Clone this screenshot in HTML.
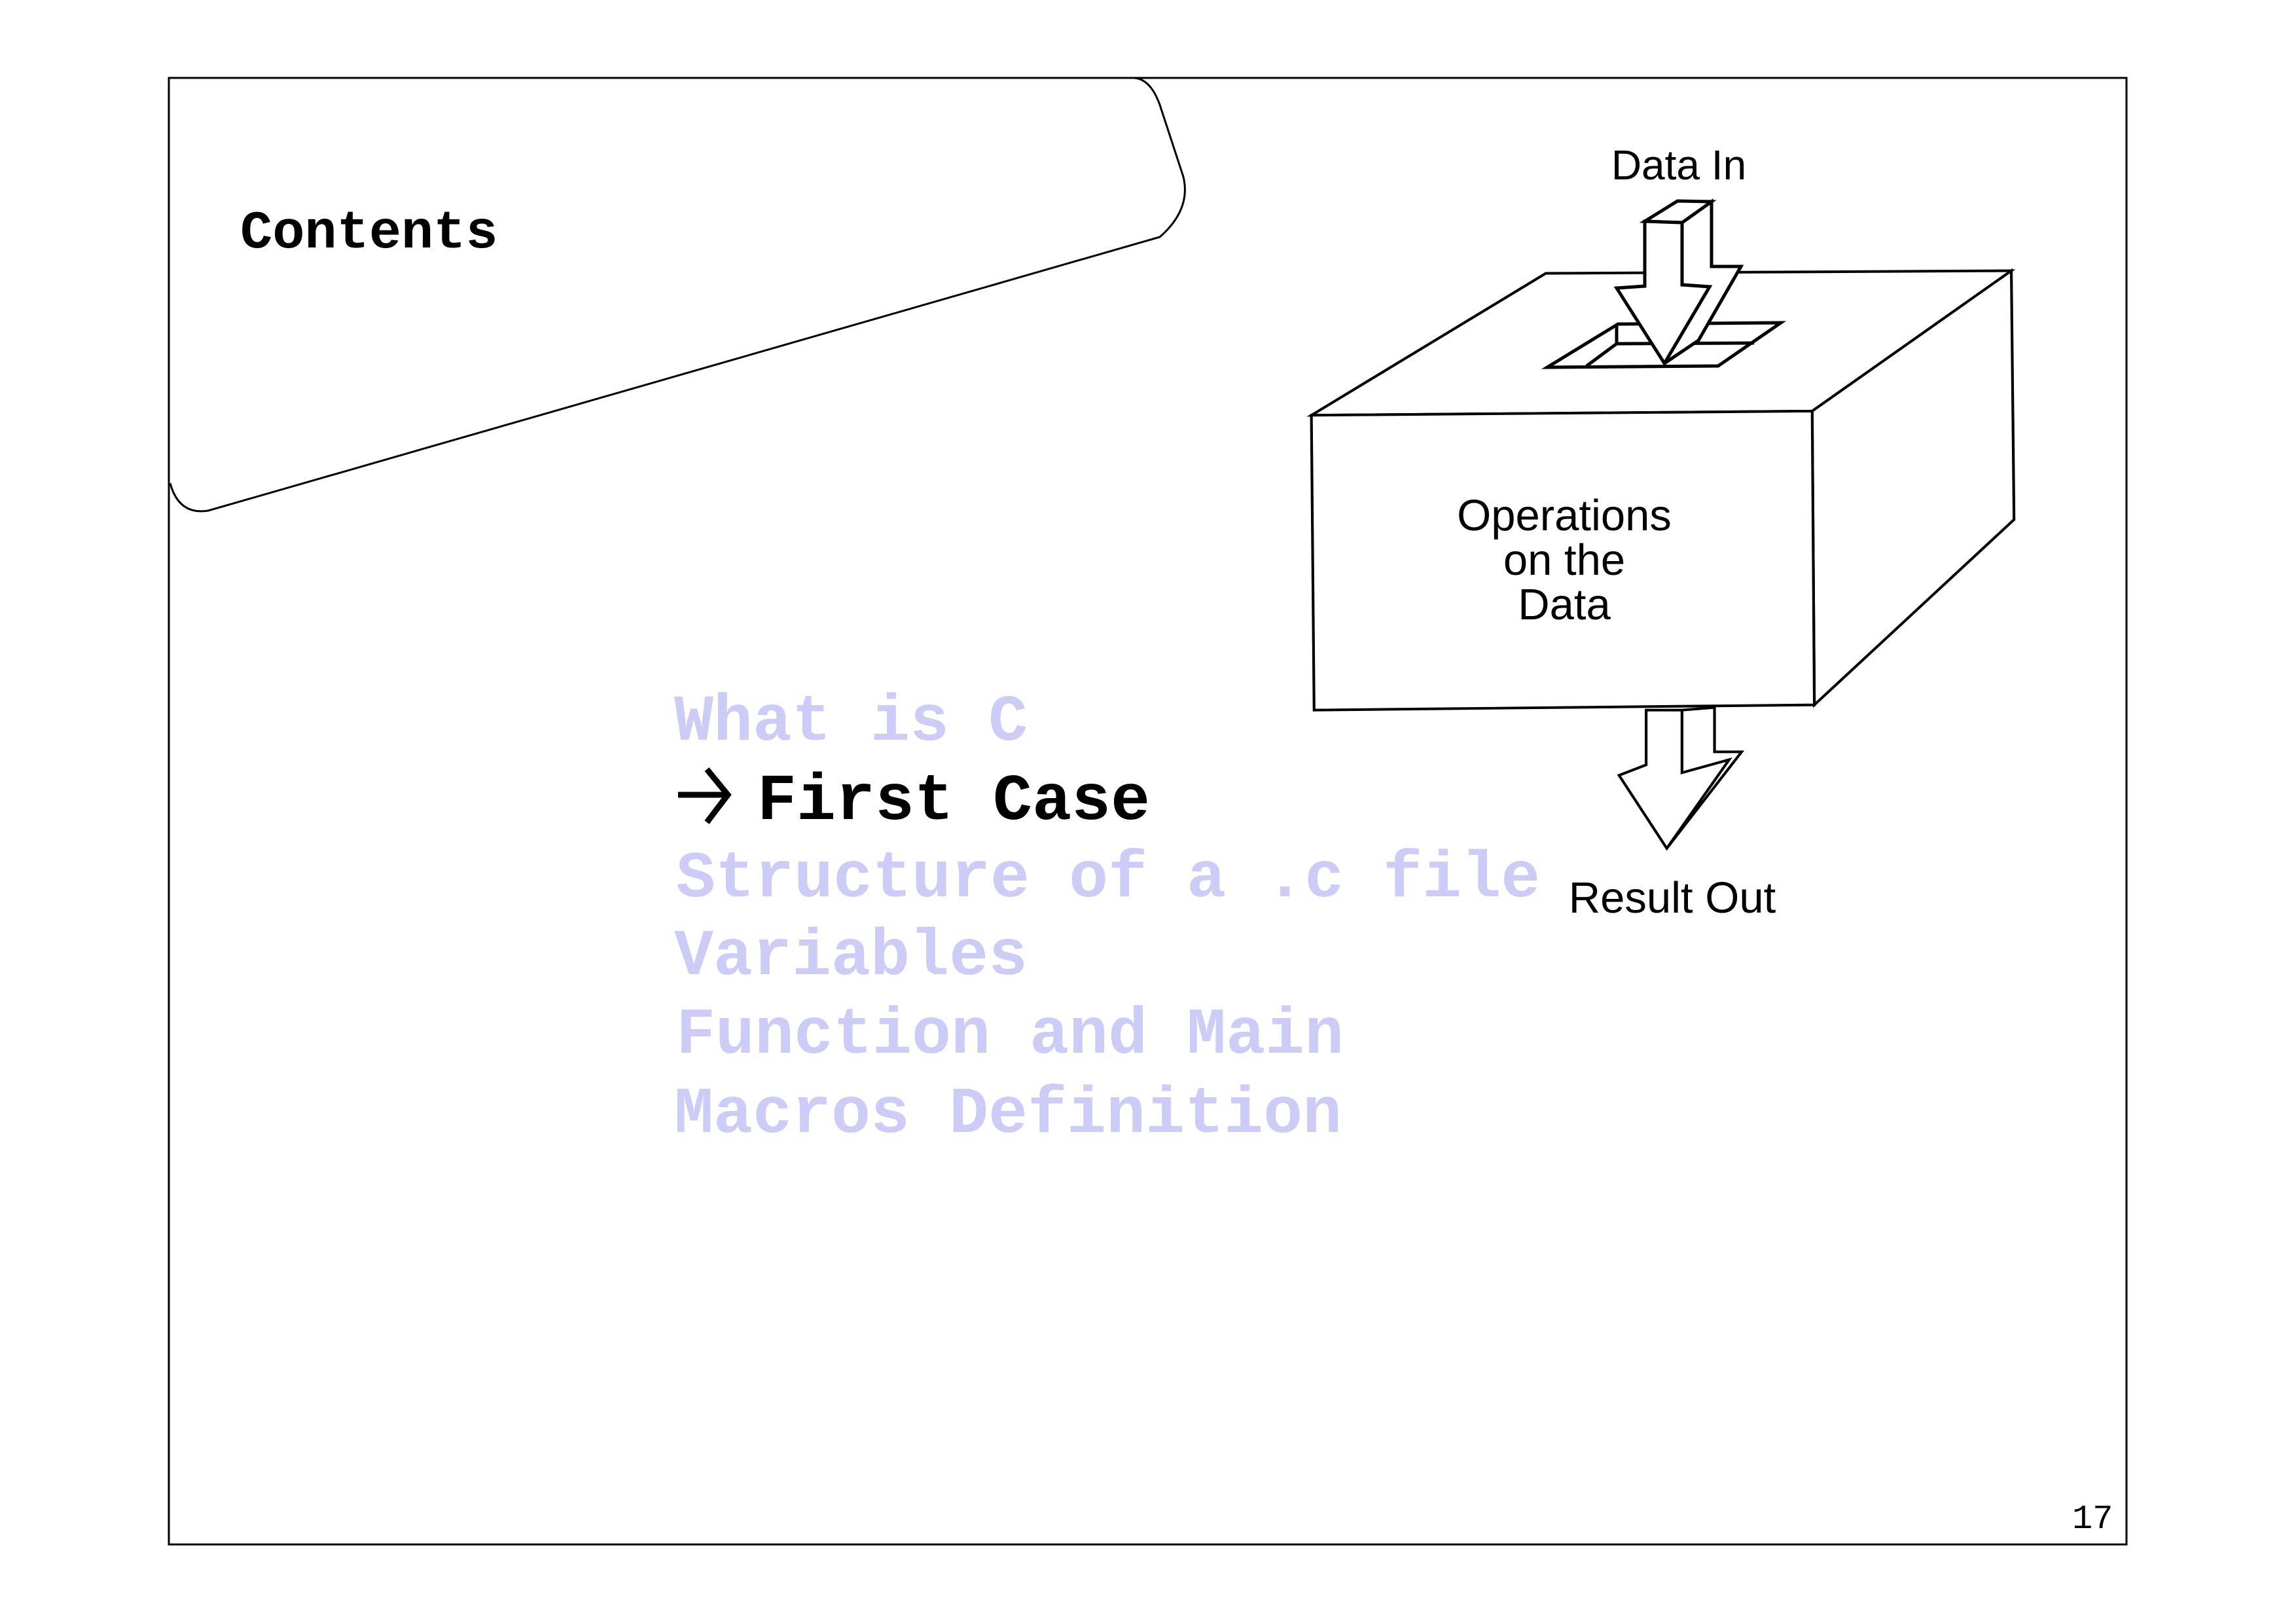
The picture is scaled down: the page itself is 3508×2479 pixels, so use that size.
<!DOCTYPE html>
<html><head><meta charset="utf-8"><style>
html,body{margin:0;padding:0;background:#fff;}
body{width:3508px;height:2479px;position:relative;overflow:hidden;}
svg{position:absolute;left:0;top:0;}
</style></head><body>
<svg width="3508" height="2479" viewBox="0 0 3508 2479" xmlns="http://www.w3.org/2000/svg">
<rect x="258" y="119" width="2991" height="2240" fill="none" stroke="#000" stroke-width="3"/>
<path d="M258,119 L1733,119 Q1758,121 1772,160 L1808,270 Q1820,320 1772,362 L318,780 Q273,787 260,738" fill="none" stroke="#000" stroke-width="3"/>
<text x="367" y="378" font-family="Liberation Mono, monospace" font-weight="bold" font-size="82">Contents</text>
<g font-family="Liberation Mono, monospace" font-weight="bold" font-size="100" fill="#ccccf6">
<text x="1030" y="1130">What is C</text>
<text x="1157" y="1251" fill="#000">First Case</text>
<text x="1033" y="1369">Structure of a .c file</text>
<text x="1030" y="1488">Variables</text>
<text x="1033" y="1608">Function and Main</text>
<text x="1030" y="1729">Macros Definition</text>
</g>
<path d="M1036,1214 L1112,1214 M1080,1175 L1112,1214 L1080,1256" fill="none" stroke="#000" stroke-width="9"/>
<text x="3166" y="2334" font-family="Liberation Mono, monospace" font-size="52">17</text>
<g transform="translate(1900,180) scale(0.829,0.797)" fill="#fff" stroke="#000" stroke-width="5" stroke-linejoin="miter">
<polygon points="125,570 557,298 1415,293 1048,562"/>
<polygon points="1048,562 1415,293 1420,770 1052,1125"/>
<polygon points="125,570 1048,562 1052,1125 130,1135"/>
<polygon points="808,1135 868,1130 868,1215 918,1215 780,1400 808,1250"/>
<polygon points="742,1135 808,1135 808,1255 895,1230 780,1400 692,1260 742,1240"/>
</g>
<g fill="#fff" stroke="#000" stroke-width="5">
<polygon points="2364,561 2472,495 2721,493 2625,559"/>
<polyline points="2424,559 2470,525 2680,524" fill="none"/>
<line x1="2470" y1="495" x2="2470" y2="525"/>
<polygon points="2570,340 2615,308 2615,407 2660,407 2595,520 2543,555 2612,438 2570,435"/>
<polygon points="2513,338 2563,307 2615,308 2570,340"/>
<polygon points="2513,338 2513,437 2470,440 2543,555 2612,438 2570,435 2570,340"/>
</g>
<g font-family="Liberation Sans, sans-serif" font-size="64" text-anchor="middle">
<text x="2565" y="274">Data In</text>
<text x="2390" y="810" font-size="67">Operations</text>
<text x="2390" y="878" font-size="67">on the</text>
<text x="2390" y="946" font-size="67">Data</text>
<text x="2555" y="1394" font-size="67">Result Out</text>
</g>
</svg>
</body></html>
